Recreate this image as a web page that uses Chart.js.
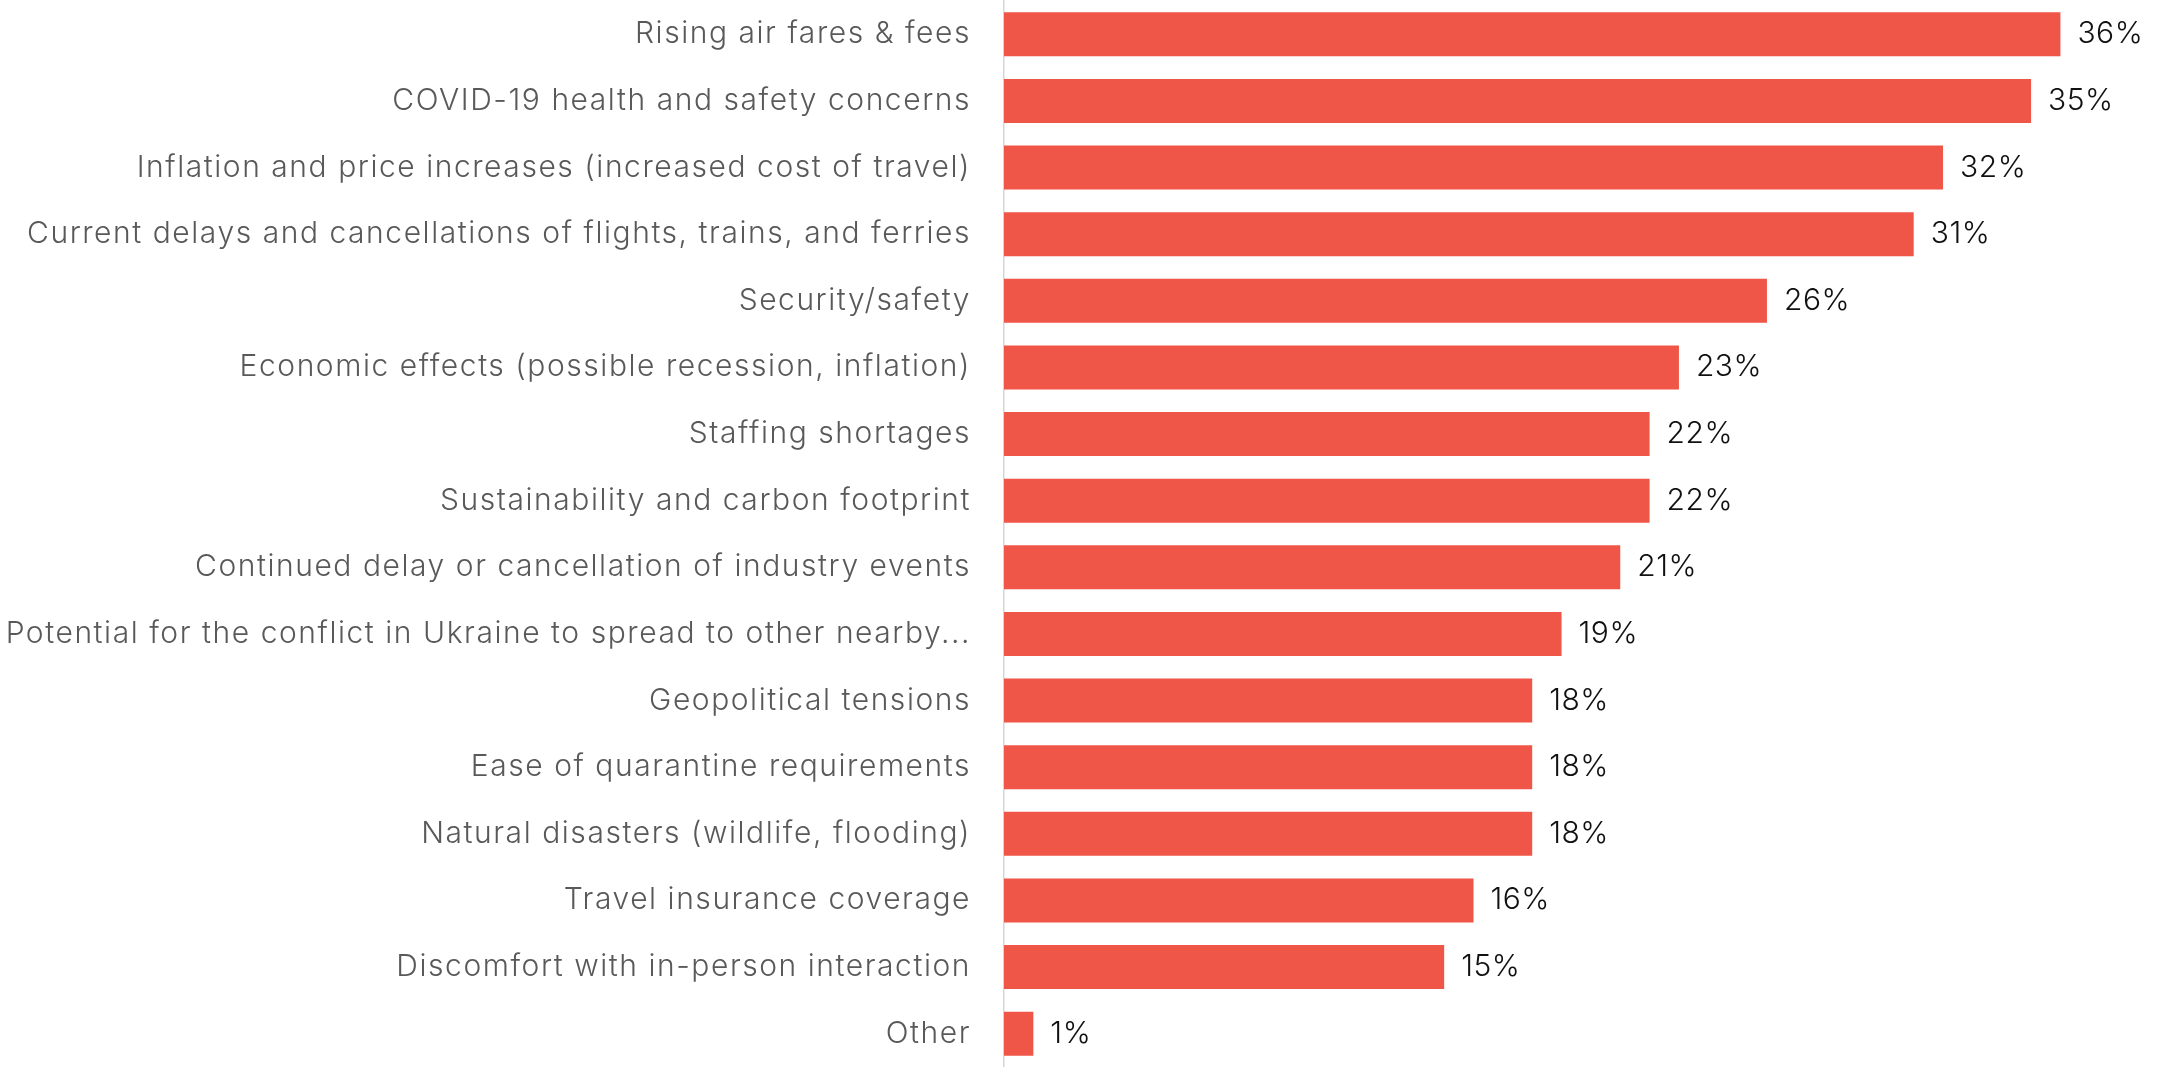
<!DOCTYPE html>
<html>
<head>
<meta charset="utf-8">
<title>Travel concerns</title>
<script src="https://cdn.jsdelivr.net/npm/chart.js@4.4.0/dist/chart.umd.min.js"></script>
<style>
    html, body { margin: 0; padding: 0; background: #ffffff; overflow: hidden; }
    #wrap { position: relative; width: 2169px; height: 1067px; }
</style>
</head>
<body>
<div id="wrap"><canvas id="concerns-chart"></canvas></div>
<script>
(function () {
    "use strict";

    // Concerns, top to bottom
    var concerns = [
        "Rising air fares & fees",
        "COVID-19 health and safety concerns",
        "Inflation and price increases (increased cost of travel)",
        "Current delays and cancellations of flights, trains, and ferries",
        "Security/safety",
        "Economic effects (possible recession, inflation)",
        "Staffing shortages",
        "Sustainability and carbon footprint",
        "Continued delay or cancellation of industry events",
        "Potential for the conflict in Ukraine to spread to other nearby...",
        "Geopolitical tensions",
        "Ease of quarantine requirements",
        "Natural disasters (wildlife, flooding)",
        "Travel insurance coverage",
        "Discomfort with in-person interaction",
        "Other"
    ];

    // Share of respondents (%)
    var shares = [36, 35, 32, 31, 26, 23, 22, 22, 21, 19, 18, 18, 18, 16, 15, 1];

    var FONT = "Inter, 'Open Sans', sans-serif";

    // Wider tracking for the category labels
    var tracking = {
        id: "tracking",
        beforeDraw: function (chart) {
            chart.ctx.letterSpacing = "1.55px";
        },
        afterDraw: function (chart) {
            chart.ctx.letterSpacing = "0px";
        }
    };

    // Percent labels at the end of each bar
    var valueLabels = {
        id: "valueLabels",
        afterDatasetsDraw: function (chart) {
            var ctx = chart.ctx;
            var meta = chart.getDatasetMeta(0);
            ctx.save();
            ctx.letterSpacing = "0.5px";
            ctx.font = "300 30px " + FONT;
            ctx.fillStyle = "#111111";
            ctx.textAlign = "left";
            ctx.textBaseline = "middle";
            meta.data.forEach(function (bar, i) {
                ctx.fillText(shares[i] + "%", bar.x + 17, bar.y);
            });
            ctx.restore();
        }
    };

    var ctx = document.getElementById("concerns-chart").getContext("2d");
    var concernsChart = new Chart(ctx, {
        type: "bar",
        data: {
            labels: concerns,
            datasets: [{
                data: shares,
                backgroundColor: "#F05647",
                barPercentage: 0.66,
                categoryPercentage: 1
            }]
        },
        options: {
            indexAxis: "y",
            responsive: true,
            maintainAspectRatio: false,
            animation: false,
            layout: {
                padding: { left: 0, right: 0, top: 1, bottom: -5 }
            },
            plugins: {
                legend: { display: false },
                tooltip: { enabled: false }
            },
            scales: {
                x: {
                    display: false,
                    min: 0,
                    max: 39.7
                },
                y: {
                    grid: { display: false },
                    border: { display: true, color: "#d6d6d6", width: 1.5 },
                    ticks: {
                        color: "#595959",
                        padding: 25,
                        font: { family: FONT, size: 30, weight: 300 }
                    },
                    afterFit: function (scale) {
                        // fixed label column, no extra room above/below the bars
                        scale.width = 1004;
                        scale.paddingTop = 0;
                        scale.paddingBottom = 0;
                    }
                }
            }
        },
        plugins: [tracking, valueLabels]
    });
})();
</script>
</body>
</html>
